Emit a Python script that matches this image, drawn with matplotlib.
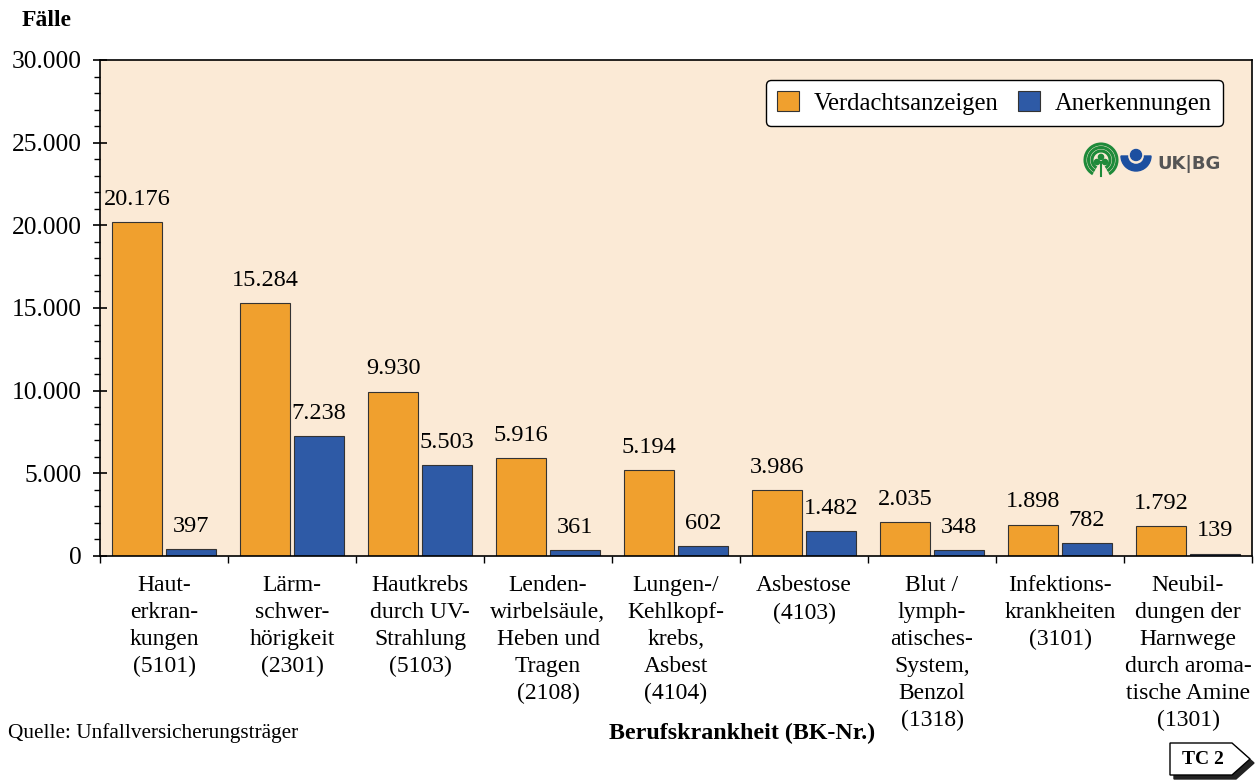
import numpy as np
import matplotlib.pyplot as plt
from matplotlib.patches import Polygon, Circle, Wedge, Arc
from matplotlib.ticker import FuncFormatter, MultipleLocator, FixedLocator

plt.rcParams['font.family'] = ['Liberation Serif', 'DejaVu Serif']

# data
categories = [
    'Haut-\nerkran-\nkungen\n(5101)',
    'Lärm-\nschwer-\nhörigkeit\n(2301)',
    'Hautkrebs\ndurch UV-\nStrahlung\n(5103)',
    'Lenden-\nwirbelsäule,\nHeben und\nTragen\n(2108)',
    'Lungen-/\nKehlkopf-\nkrebs,\nAsbest\n(4104)',
    'Asbestose\n(4103)',
    'Blut /\nlymph-\natisches-\nSystem,\nBenzol\n(1318)',
    'Infektions-\nkrankheiten\n(3101)',
    'Neubil-\ndungen der\nHarnwege\ndurch aroma-\ntische Amine\n(1301)',
]
verdacht = [20176, 15284, 9930, 5916, 5194, 3986, 2035, 1898, 1792]
anerkannt = [397, 7238, 5503, 361, 602, 1482, 348, 782, 139]

orange = '#F0A02E'
blue = '#2E5AA6'
bg = '#FBEAD6'


def de_fmt(v, pos=None):
    return f'{int(v):,}'.replace(',', '.')


fig = plt.figure(figsize=(12.58, 7.81), dpi=100)
ax = fig.add_axes([100 / 1258, 1 - 556 / 781, 1152 / 1258, 496 / 781])
ax.set_facecolor(bg)

x = np.arange(len(categories))
w = 0.39
b1 = ax.bar(x - 0.21, verdacht, w, color=orange, edgecolor='#333333', linewidth=0.8,
            label='Verdachtsanzeigen')
b2 = ax.bar(x + 0.21, anerkannt, w, color=blue, edgecolor='#333333', linewidth=0.8,
            label='Anerkennungen')

for bars in (b1, b2):
    for r in bars:
        ax.annotate(de_fmt(r.get_height()), (r.get_x() + r.get_width() / 2, r.get_height()),
                    xytext=(0, 9), textcoords='offset points', ha='center', va='bottom',
                    fontsize=17.5)

ax.set_xlim(-0.5, len(categories) - 0.5)
ax.set_ylim(0, 30000)

ax.yaxis.set_major_locator(MultipleLocator(5000))
ax.yaxis.set_minor_locator(MultipleLocator(1000))
ax.yaxis.set_major_formatter(FuncFormatter(de_fmt))
ax.tick_params(axis='y', which='major', direction='inout', length=10, width=1.2,
               labelsize=18.4, pad=8)
ax.tick_params(axis='y', which='minor', direction='out', length=4, width=1)

ax.xaxis.set_major_locator(FixedLocator(np.arange(-0.5, len(categories), 1)))
ax.xaxis.set_minor_locator(FixedLocator(x))
ax.set_xticklabels([], minor=False)
ax.set_xticklabels(categories, minor=True)
ax.tick_params(axis='x', which='major', direction='out', length=5, width=1)
ax.tick_params(axis='x', which='minor', length=0, labelsize=17, pad=14)
for t in ax.get_xticklabels(minor=True):
    t.set_linespacing(1.37)
    t.set_va('top')

for s in ax.spines.values():
    s.set_linewidth(1.2)

leg = ax.legend(loc='upper right', bbox_to_anchor=(0.975, 0.96), borderaxespad=0,
                ncol=2, fontsize=17.7, frameon=True, fancybox=True, framealpha=1,
                edgecolor='black', handlelength=0.9, handleheight=0.9,
                columnspacing=0.8, handletextpad=0.6, borderpad=0.45)
leg.get_frame().set_linewidth(1)

fig.text(22 / 1258, 1 - 20 / 781, 'Fälle', fontsize=17, fontweight='bold', va='center')
fig.text(8 / 1258, 1 - 733 / 781, 'Quelle: Unfallversicherungsträger', fontsize=15.3, va='center')
fig.text(742 / 1258, 1 - 733 / 781, 'Berufskrankheit (BK-Nr.)', fontsize=17.3,
         fontweight='bold', va='center', ha='center')

# overlay for logo and badge, in pixel units (y grows downward)
ov = fig.add_axes([0, 0, 1, 1])
ov.set_xlim(0, 1258)
ov.set_ylim(781, 0)
ov.axis('off')

green = '#1E8A3A'
for r in (16, 12.5, 9):
    ov.add_patch(Arc((1101, 160), 2 * r, 2 * r, theta1=120, theta2=420, color=green, lw=2.2))
ov.add_patch(Circle((1097, 162), 2.6, color=green))
ov.add_patch(Circle((1105, 162), 2.6, color=green))
ov.add_patch(Circle((1101, 157), 2.6, color=green))
ov.plot([1101, 1101], [162, 176], color=green, lw=1.5)
ov.add_patch(Wedge((1136, 156), 15, 0, 180, width=6.5, color='#1C4FA0'))
ov.add_patch(Circle((1136, 155), 5.5, color='#1C4FA0'))
ov.text(1157, 164, 'UK|BG', fontsize=13, fontweight='bold', color='#555555',
        family='DejaVu Sans', va='center', ha='left')

badge = [(1170, 743), (1232, 743), (1250, 759), (1232, 775), (1170, 775)]
shadow = [(px + 4, py + 4) for px, py in badge]
ov.add_patch(Polygon(shadow, closed=True, color='#222222', zorder=1))
ov.add_patch(Polygon(badge, closed=True, facecolor='white', edgecolor='black', lw=1, zorder=2))
ov.text(1203, 759, 'TC 2', fontsize=14, fontweight='bold', ha='center', va='center', zorder=3)

fig.savefig('out.png', dpi=100)
